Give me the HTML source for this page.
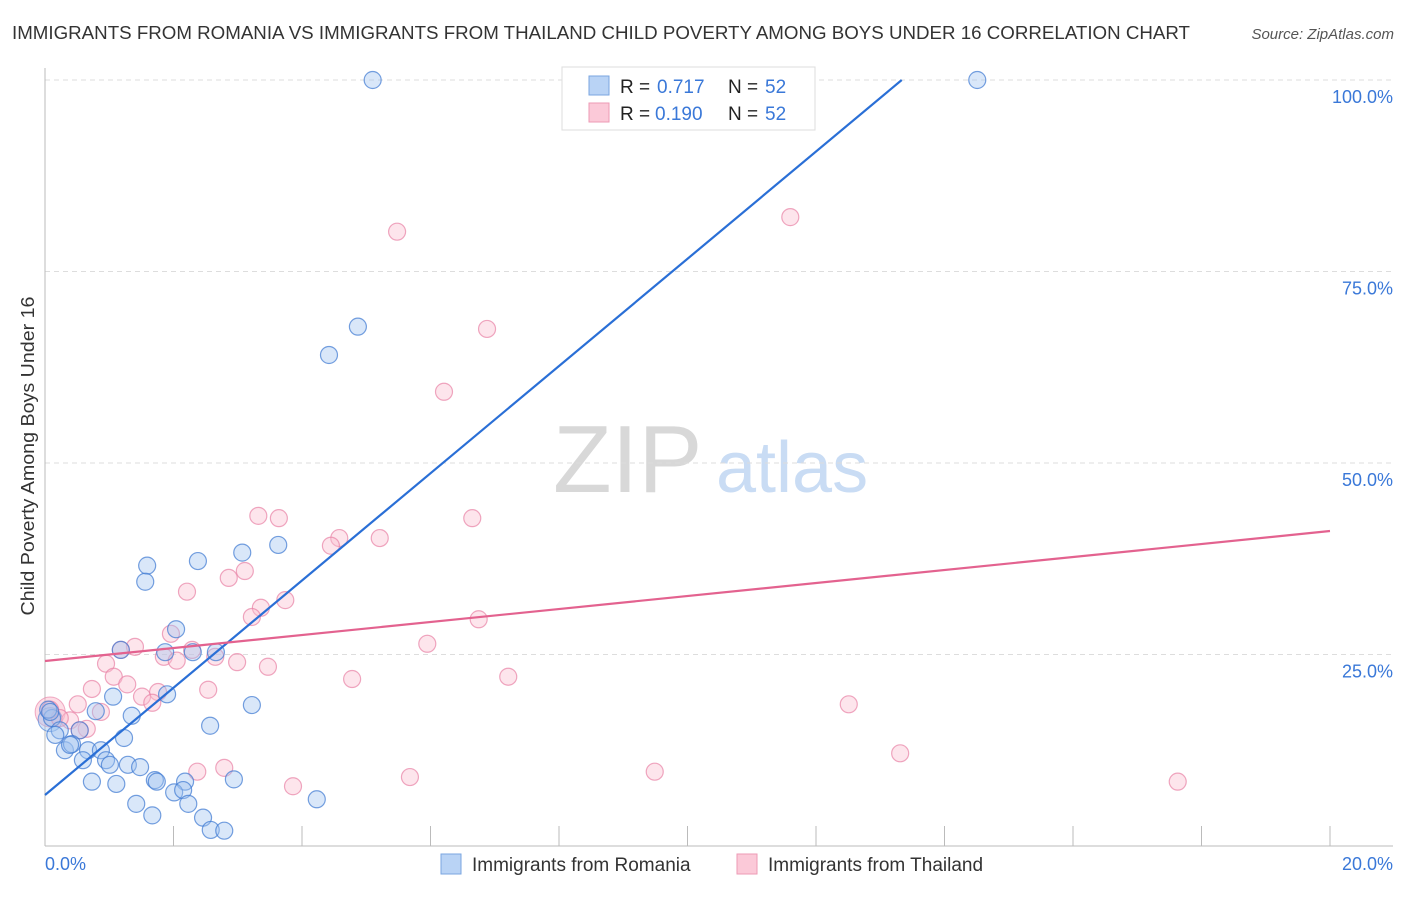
<!DOCTYPE html>
<html><head><meta charset="utf-8"><style>
body{margin:0;background:#fff;font-family:"Liberation Sans",sans-serif;}
svg text{font-family:"Liberation Sans",sans-serif;}
</style></head><body>
<svg id="chart" width="1406" height="892" viewBox="0 0 1406 892">
<text x="12" y="39" font-size="18" fill="#333" textLength="1178" lengthAdjust="spacingAndGlyphs">IMMIGRANTS FROM ROMANIA VS IMMIGRANTS FROM THAILAND CHILD POVERTY AMONG BOYS UNDER 16 CORRELATION CHART</text>
<text x="1394" y="39" font-size="15" fill="#555" font-style="italic" text-anchor="end">Source: ZipAtlas.com</text>
<g>
<text x="553" y="492" font-size="96" font-family="Liberation Serif" fill="#d8d8d8">ZIP</text>
<text x="716" y="492" font-size="72" fill="#c9dcf4">atlas</text>
</g>
<g id="grid"></g>
<g id="axes"></g>
<g id="marks"></g>
<g id="lines"></g>
<text x="34" y="456" font-size="18" fill="#333" text-anchor="middle" textLength="319" lengthAdjust="spacingAndGlyphs" transform="rotate(-90 34 456)">Child Poverty Among Boys Under 16</text>
<text x="45" y="870" font-size="18" fill="#3a78d8">0.0%</text>
<text x="1393" y="870" font-size="18" fill="#3a78d8" text-anchor="end">20.0%</text>
<g>
<rect x="562" y="67" width="253" height="63" fill="#fff" stroke="#ddd"/>
<rect x="589" y="76" width="20" height="19" fill="#b9d3f5" stroke="#7aa6e0"/>
<rect x="589" y="103" width="20" height="19" fill="#fbc9d8" stroke="#ee9ab5"/>
<text x="620" y="93" font-size="19" fill="#222">R = <tspan x="657" fill="#3a78d8">0.717</tspan><tspan x="728">N = </tspan><tspan x="765" fill="#3a78d8">52</tspan></text>
<text x="620" y="120" font-size="19" fill="#222">R = <tspan x="655" fill="#3a78d8">0.190</tspan><tspan x="728">N = </tspan><tspan x="765" fill="#3a78d8">52</tspan></text>
</g>
<g>
<rect x="441" y="854" width="20" height="20" fill="#b9d3f5" stroke="#7aa6e0"/>
<text x="472" y="871" font-size="19" fill="#333">Immigrants from Romania</text>
<rect x="737" y="854" width="20" height="20" fill="#fbc9d8" stroke="#ee9ab5"/>
<text x="768" y="871" font-size="19" fill="#333">Immigrants from Thailand</text>
</g>
</svg>
<script>
const romaniaX=[5.10,14.51,4.87,4.42,3.63,3.07,2.38,1.59,1.56,2.04,1.18,1.87,2.30,2.66,1.90,1.06,3.22,0.79,1.35,2.57,0.11,0.54,0.23,0.05,1.23,0.67,0.31,0.42,0.87,0.95,0.59,1.01,1.29,1.48,1.71,1.74,2.18,2.94,0.73,1.11,2.01,2.15,4.23,1.42,2.23,1.67,2.46,2.58,2.79,0.08,0.16,0.39];
const romaniaY=[100,100,67.8,64.1,39.3,38.3,37.2,36.6,34.5,28.3,25.6,25.3,25.3,25.3,19.8,19.5,18.4,17.6,17.0,15.7,16.7,15.1,15.1,17.8,14.1,12.5,12.5,13.3,12.5,11.2,11.2,10.6,10.6,10.3,8.6,8.4,8.4,8.7,8.4,8.1,7.0,7.3,6.1,5.5,5.5,4.0,3.7,2.1,2.0,17.5,14.5,13.2];
const thailandX=[11.60,5.48,6.88,6.21,3.32,3.64,6.65,4.58,4.45,5.21,3.11,2.86,2.21,3.74,3.36,3.22,6.75,1.96,1.40,2.29,1.18,1.85,2.05,2.65,2.99,5.95,0.95,3.47,1.07,1.28,0.73,1.76,1.51,2.54,1.67,4.78,7.21,12.51,0.51,0.87,0.39,0.23,0.65,0.54,13.31,2.37,2.79,3.86,5.68,9.49,17.63,0.08];
const thailandY=[82.1,80.2,67.5,59.3,43.1,42.8,42.8,40.2,39.2,40.2,35.9,35.0,33.2,32.1,31.1,29.9,29.6,27.7,26.0,25.6,25.6,24.7,24.2,24.7,24.0,26.4,23.8,23.4,22.1,21.1,20.5,20.1,19.5,20.4,18.7,21.8,22.1,18.5,18.5,17.5,16.4,16.7,15.3,15.1,12.1,9.7,10.2,7.8,9.0,9.7,8.4,17.8];
const romaniaTrend=[6.66,7.0];   // intercept, slope
const thailandTrend=[24.15,41.12]; // y at x=0, y at x=20
const yTicks=[25,50,75,100];
const yTickLabels=["25.0%","50.0%","75.0%","100.0%"];
const xTicks=[0,2,4,6,8,10,12,14,16,18,20];

const NS="http://www.w3.org/2000/svg";
const sx=v=>45+v/20*1285;
const sy=v=>846-v/100*766;
function mk(tag,attrs,parent){const e=document.createElementNS(NS,tag);for(const k in attrs)e.setAttribute(k,attrs[k]);parent.appendChild(e);return e;}
const grid=document.getElementById('grid'),axes=document.getElementById('axes'),marks=document.getElementById('marks'),lines=document.getElementById('lines');
yTicks.forEach((t,i)=>{
  const l=mk('line',{x1:45,x2:1393,y1:sy(t),y2:sy(t),stroke:'#ddd','stroke-dasharray':'5,4'},grid);
  
  
  const tx=mk('text',{x:1393,y:sy(t)+23,'font-size':18,fill:'#3a78d8','text-anchor':'end'},grid);
  tx.textContent=yTickLabels[i];
  
  
});
let a=mk('line',{x1:45,x2:45,y1:68,y2:846,stroke:'#bbb'},axes);


a=mk('line',{x1:45,x2:1393,y1:846,y2:846,stroke:'#bbb'},axes);


xTicks.forEach(t=>{
  const l=mk('line',{x1:sx(t),x2:sx(t),y1:826,y2:846,stroke:'#bbb'},axes);
  
  
});
let b=mk('circle',{cx:sx(0.08),cy:sy(17.5),r:15,fill:'rgba(251,180,200,0.45)',stroke:'rgba(230,120,160,0.6)'},marks);


b=mk('circle',{cx:sx(0.08),cy:sy(16.5),r:12,fill:'rgba(160,196,240,0.45)',stroke:'rgba(60,120,210,0.6)'},marks);


thailandX.forEach((x,i)=>{
  const c=mk('circle',{cx:sx(x),cy:sy(thailandY[i]),r:8.5,fill:'rgba(251,190,208,0.4)',stroke:'rgba(232,130,165,0.7)','stroke-width':1.2},marks);
  
  
});
romaniaX.forEach((x,i)=>{
  const c=mk('circle',{cx:sx(x),cy:sy(romaniaY[i]),r:8.5,fill:'rgba(160,196,240,0.4)',stroke:'rgba(60,120,210,0.7)','stroke-width':1.2},marks);
  
  
});
const xEnd=(100-romaniaTrend[0])/romaniaTrend[1];
let t=mk('line',{x1:sx(0),y1:sy(romaniaTrend[0]),x2:sx(xEnd),y2:sy(100),stroke:'#2a6fd6','stroke-width':2.2},lines);


t=mk('line',{x1:sx(0),y1:sy(thailandTrend[0]),x2:sx(20),y2:sy(thailandTrend[1]),stroke:'#e3628f','stroke-width':2.2},lines);


</script>
</body></html>
